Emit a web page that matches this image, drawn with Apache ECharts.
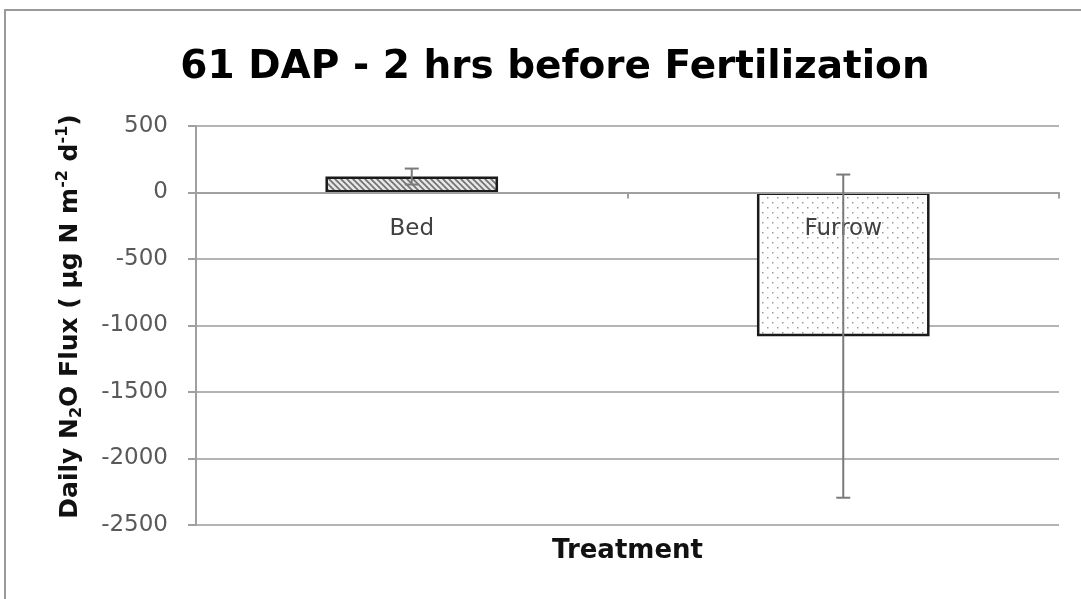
<!DOCTYPE html>
<html>
<head>
<meta charset="utf-8">
<script src="https://cdn.jsdelivr.net/npm/echarts@6/dist/echarts.min.js"></script>
<style>
html,body{margin:0;padding:0;background:#fff;}
#chart{width:1081px;height:599px;}
</style>
</head>
<body>
<div id="chart"></div>
<script>
// ---- data ----
const categories = ['Bed', 'Furrow'];
const fluxMean = [120, -1080];
const fluxErr = [60, 1215];
const yTicks = { min: -2500, max: 500, step: 500 };
const titleText = '61 DAP - 2 hrs before Fertilization';
const xName = 'Treatment';

// ---- layout ----
const gridTop = 126, gridBottom = 74, chartH = 599;
const gridH = chartH - gridTop - gridBottom;
// place the category axis at the value-axis zero (offset measured from the grid bottom)
const zeroOffset = -gridH * (0 - yTicks.min) / (yTicks.max - yTicks.min);

// ---- patterns ----
function hatchPattern() {
  const c = document.createElement('canvas');
  c.width = 6; c.height = 6;
  const g = c.getContext('2d');
  g.fillStyle = '#e6e6e6';
  g.fillRect(0, 0, 6, 6);
  g.strokeStyle = '#707070';
  g.lineWidth = 1.6;
  g.beginPath();
  g.moveTo(-3, 3); g.lineTo(3, 9);
  g.moveTo(0, 0); g.lineTo(6, 6);
  g.moveTo(3, -3); g.lineTo(9, 3);
  g.stroke();
  return c;
}
function dotPattern() {
  const c = document.createElement('canvas');
  c.width = 10; c.height = 10;
  const g = c.getContext('2d');
  g.fillStyle = '#ffffff';
  g.fillRect(0, 0, 10, 10);
  g.fillStyle = '#9a9a9a';
  g.fillRect(2, 2, 1.5, 1.5);
  g.fillRect(7, 7, 1.5, 1.5);
  return c;
}
const fills = [hatchPattern(), dotPattern()];

const barData = fluxMean.map((v, i) => ({
  value: v,
  itemStyle: { color: { image: fills[i], repeat: 'repeat' } }
}));
const errData = fluxMean.map((v, i) => [i, v - fluxErr[i], v + fluxErr[i]]);

const chart = echarts.init(document.getElementById('chart'), null, { renderer: 'canvas' });
chart.setOption({
  backgroundColor: '#ffffff',
  animation: false,
  title: {
    text: titleText,
    left: 550,
    top: 43,
    textAlign: 'center',
    textStyle: { fontFamily: 'DejaVu Sans', fontWeight: 'bold', fontSize: 39, color: '#000' }
  },
  graphic: [{
    type: 'rect',
    shape: { x: 5, y: 10, width: 1200, height: 700 },
    style: { fill: 'none', stroke: '#9a9a9a', lineWidth: 2 },
    silent: true
  }],
  grid: { left: 196, right: 22, top: gridTop, bottom: gridBottom, containLabel: false, outerBoundsMode: 'none' },
  xAxis: {
    type: 'category',
    data: categories,
    position: 'bottom',
    offset: zeroOffset,
    z: 5,
    name: xName,
    nameLocation: 'middle',
    nameGap: 346,
    nameMoveOverlap: false,
    nameTextStyle: { fontFamily: 'DejaVu Sans', fontWeight: 'bold', fontSize: 26, color: '#111' },
    axisLine: { onZero: false, lineStyle: { color: '#a0a0a0', width: 2 } },
    axisTick: { show: true, length: 6, inside: false, lineStyle: { color: '#a0a0a0', width: 2 } },
    axisLabel: { margin: 25, fontFamily: 'DejaVu Sans', fontSize: 23, color: '#404040' },
    splitLine: { show: false }
  },
  yAxis: {
    type: 'value',
    min: yTicks.min,
    max: yTicks.max,
    interval: yTicks.step,
    name: '{a|Daily N}{sub|2}{a|O Flux ( µg N m}{sup|-2}{a| d}{sup|-1}{a|)}',
    nameLocation: 'middle',
    nameRotate: 90,
    nameGap: 111,
    nameTextStyle: {
      padding: [0, 0, 0, 18],
      rich: {
        a: { fontFamily: 'DejaVu Sans', fontWeight: 'bold', fontSize: 25, color: '#111', lineHeight: 30, verticalAlign: 'middle' },
        sub: { fontFamily: 'DejaVu Sans', fontWeight: 'bold', fontSize: 16, color: '#111', lineHeight: 30, verticalAlign: 'bottom' },
        sup: { fontFamily: 'DejaVu Sans', fontWeight: 'bold', fontSize: 16, color: '#111', lineHeight: 30, verticalAlign: 'top' }
      }
    },
    axisLine: { show: true, lineStyle: { color: '#a0a0a0', width: 2 } },
    axisTick: { show: true, length: 8, inside: false, lineStyle: { color: '#a0a0a0', width: 2 } },
    axisLabel: { margin: 28, fontFamily: 'DejaVu Sans', fontSize: 23, color: '#595959', formatter: v => String(v) },
    splitLine: { show: true, lineStyle: { color: '#b4b4b4', width: 2 } }
  },
  series: [
    {
      type: 'bar',
      data: barData,
      barWidth: '40%',
      itemStyle: { borderColor: '#1a1a1a', borderWidth: 2.5 }
    },
    {
      type: 'custom',
      data: errData,
      z: 10,
      renderItem: function (params, api) {
        const x = api.value(0);
        const lo = api.coord([x, api.value(1)]);
        const hi = api.coord([x, api.value(2)]);
        const hw = 7;
        const st = { stroke: '#7a7a7a', lineWidth: 2 };
        return {
          type: 'group',
          children: [
            { type: 'line', shape: { x1: lo[0], y1: lo[1], x2: hi[0], y2: hi[1] }, style: st },
            { type: 'line', shape: { x1: lo[0] - hw, y1: lo[1], x2: lo[0] + hw, y2: lo[1] }, style: st },
            { type: 'line', shape: { x1: hi[0] - hw, y1: hi[1], x2: hi[0] + hw, y2: hi[1] }, style: st }
          ]
        };
      }
    }
  ]
});
</script>
</body>
</html>
